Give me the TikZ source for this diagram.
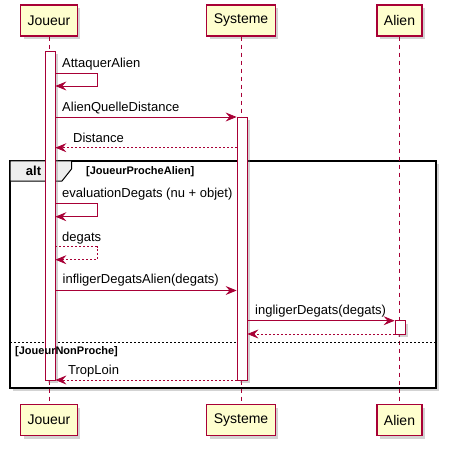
\documentclass[tikz,border=0pt]{standalone}
\usepackage{fontspec}
\setmainfont{Liberation Sans}
\usetikzlibrary{positioning, arrows.meta, calc, shadows}
\definecolor{plum}{HTML}{A80036}
\definecolor{partfill}{HTML}{FEFECE}
\definecolor{tabfill}{HTML}{EEEEEE}

\begin{document}
\begin{tikzpicture}[x=1pt, y=-1pt,
          shade/.style={drop shadow={shadow xshift=3pt, shadow yshift=-3pt, opacity=0.35, fill=gray}},
          part/.style={draw=plum, line width=1.2pt, fill=partfill, minimum height=31pt, inner xsep=7pt, font=\fontsize{14}{16}\selectfont, shade},
          act/.style={draw=plum, line width=0.8pt, fill=white, minimum width=10pt, inner sep=0pt, shade},
          life/.style={draw=plum, dashed, dash pattern=on 4pt off 4pt, line width=0.8pt},
          msg/.style={-{Stealth[length=11pt, width=9pt, inset=4pt]}, draw=plum, line width=0.8pt},
          ret/.style={msg, dash pattern=on 2pt off 2pt},
          lbl/.style={anchor=west, inner sep=0pt, font=\fontsize{13}{15}\selectfont},
          grp/.style={anchor=west, inner sep=0pt, font=\fontsize{11}{13}\selectfont\bfseries}
        ]
        \useasboundingbox (0,0) rectangle (448,449);
        \draw[black, line width=1.6pt, fill=white, shade] (10,161) rectangle (436,388);
        \node[part] (jTop) at (49, 20.5) {Joueur};
        \node[part] (sTop) at (241, 20.5) {Systeme};
        \node[part] (aTop) at (399.5, 20.5) {Alien};
        \node[part] (jBot) at (49, 420) {Joueur};
        \node[part] (sBot) at (241, 420) {Systeme};
        \node[part] (aBot) at (399.5, 420) {Alien};
        \draw[life] (jTop.south) -- (jBot.north);
        \draw[life] (sTop.south) -- (sBot.north);
        \draw[life] (aTop.south) -- (aBot.north);
        \draw[black, line width=1pt, fill=tabfill] (10,161) -- (71.5,161) -- (71.5,169) -- (62,181) -- (10,181) -- cycle;
        \node[inner sep=0pt, font=\fontsize{13}{15}\selectfont\bfseries] (altlbl) at (33.5,171) {alt};
        \node[grp] (cond1) at (86,171.5) {[JoueurProcheAlien]};
        \draw[black, dashed, dash pattern=on 2pt off 2pt, line width=0.8pt] (10,342.7) -- (436,342.7);
        \node[act, minimum height=328.5pt] (actJ) at (50, 215.75) {};
        \node[act, minimum height=263pt] (actS) at (242, 248.5) {};
        \node[act, minimum height=13.3pt] (actA) at (400, 327.35) {};
        \node[grp] (cond2) at (15,351.7) {[JoueurNonProche]};
        \coordinate (m1a) at (0,73);
        \coordinate (m1b) at (97,86);
        \coordinate (m2) at (0,117);
        \coordinate (m3) at (0,147.7);
        \coordinate (m4a) at (0,203.3);
        \coordinate (m4b) at (97,216.7);
        \coordinate (m5a) at (0,246.7);
        \coordinate (m5b) at (97,259.7);
        \coordinate (m6) at (0,290.5);
        \coordinate (m7) at (0,320.7);
        \coordinate (m8) at (0,334);
        \coordinate (m9) at (0,380);
        \node[lbl] (t1) at (62,64.5) {AttaquerAlien};
        \draw[msg] (actJ.east |- m1a) -| (m1b) -- (actJ.east |- m1b);
        \node[lbl] (t2) at (62,108) {AlienQuelleDistance};
        \draw[msg] (actJ.east |- m2) -- (actS.west |- m2);
        \node[lbl] (t3) at (73,138) {Distance};
        \draw[ret] (actS.west |- m3) -- (actJ.east |- m3);
        \node[lbl] (t4) at (62,194) {evaluationDegats (nu + objet)};
        \draw[msg] (actJ.east |- m4a) -| (m4b) -- (actJ.east |- m4b);
        \node[lbl] (t5) at (62,238) {degats};
        \draw[ret] (actJ.east |- m5a) -| (m5b) -- (actJ.east |- m5b);
        \node[lbl] (t6) at (62.5,280) {infligerDegatsAlien(degats)};
        \draw[msg] (actJ.east |- m6) -- (actS.west |- m6);
        \node[lbl] (t7) at (255,311.5) {ingligerDegats(degats)};
        \draw[msg] (actS.east |- m7) -- (actA.west |- m7);
        \draw[ret] (actA.west |- m8) -- (actS.east |- m8);
        \node[lbl] (t8) at (68,371.5) {TropLoin};
        \draw[ret] (actS.west |- m9) -- (actJ.east |- m9);
        \end{tikzpicture}
\end{document}
